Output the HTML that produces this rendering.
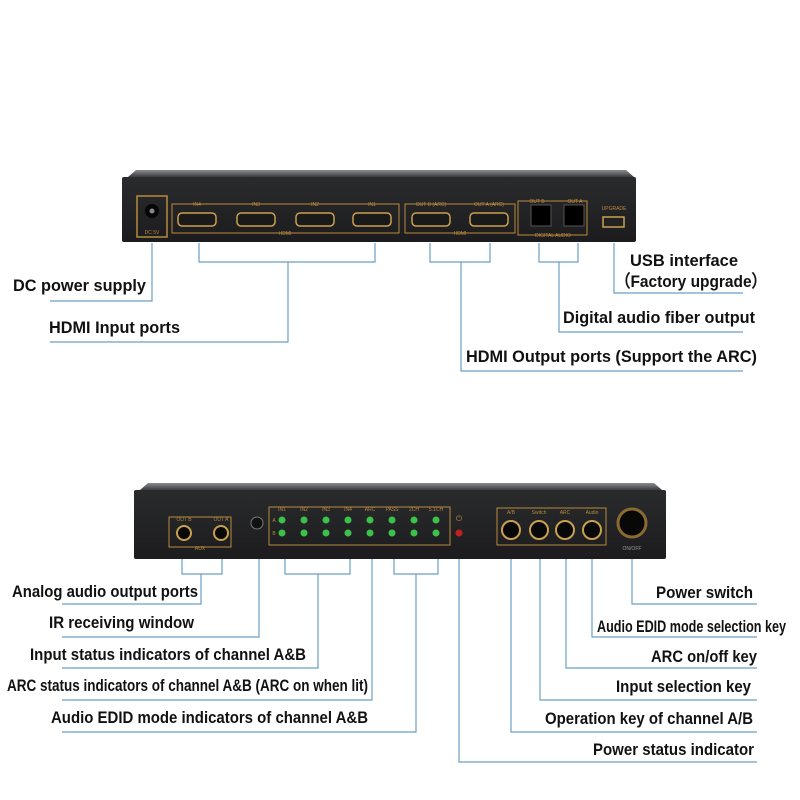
<!DOCTYPE html>
<html><head><meta charset="utf-8"><style>
html,body{margin:0;padding:0;background:#fff;}
svg{display:block}
text{font-family:"Liberation Sans",sans-serif;}
.l{font-weight:bold;font-size:17px;fill:#111;}
.g{font-size:5px;fill:#b8893c;}
</style></head><body>
<svg width="800" height="800" viewBox="0 0 800 800" xmlns="http://www.w3.org/2000/svg">
<defs>
<linearGradient id="tp" x1="0" y1="0" x2="0" y2="1"><stop offset="0" stop-color="#8a8c90"/><stop offset="1" stop-color="#3a3b3e"/></linearGradient>
<linearGradient id="bd" x1="0" y1="0" x2="0" y2="1"><stop offset="0" stop-color="#2a2b2d"/><stop offset="1" stop-color="#1c1c1e"/></linearGradient>
</defs>
<!-- TOP DEVICE -->
<polygon points="128,177 136,170 626,170 634,177" fill="url(#tp)"/>
<rect x="122" y="177" width="514" height="65" rx="2" fill="url(#bd)"/>
<g fill="none" stroke="#b8893c" stroke-width="1">
<rect x="137" y="196" width="30" height="41" stroke-width="1.5"/>
<rect x="172" y="204" width="227" height="29"/>
<rect x="405" y="204" width="110" height="29"/>
<rect x="518" y="201" width="69" height="34"/>
</g>
<circle cx="152" cy="211" r="7" fill="#050505"/><circle cx="152" cy="211" r="2.5" fill="#888"/>
<text x="152" y="234" class="g" text-anchor="middle" font-size="6">DC 5V</text>
<g fill="#1a1a1a" stroke="#c9a050" stroke-width="1.5">
<rect x="178" y="213" width="38" height="13" rx="4"/>
<rect x="237" y="213" width="38" height="13" rx="4"/>
<rect x="296" y="213" width="38" height="13" rx="4"/>
<rect x="353" y="213" width="38" height="13" rx="4"/>
<rect x="412" y="213" width="38" height="13" rx="4"/>
<rect x="470" y="213" width="38" height="13" rx="4"/>
</g>
<g fill="#000" stroke="#555"><rect x="531" y="205" width="20" height="21"/><rect x="564" y="205" width="20" height="21"/></g>
<rect x="603" y="217" width="21" height="10" fill="#222" stroke="#c9a050" stroke-width="1.5"/>
<g class="g" text-anchor="middle">
<text x="197" y="206">IN4</text><text x="256" y="206">IN3</text><text x="315" y="206">IN2</text><text x="372" y="206">IN1</text>
<text x="285" y="235">HDMI</text><text x="431" y="206">OUT B (ARC)</text><text x="489" y="206">OUT A (ARC)</text><text x="460" y="235">HDMI</text>
<text x="537" y="203">OUT B</text><text x="575" y="203">OUT A</text><text x="553" y="237">DIGITAL AUDIO</text><text x="614" y="210">UPGRADE</text>
</g>
<!-- BOTTOM DEVICE -->
<polygon points="140,490 148,483 654,483 662,490" fill="url(#tp)"/>
<rect x="134" y="490" width="532" height="69" rx="2" fill="url(#bd)"/>
<g fill="none" stroke="#b8893c" stroke-width="1">
<rect x="169" y="517" width="62" height="30"/>
<rect x="269" y="507" width="181" height="38"/>
<rect x="497" y="508" width="109" height="37"/>
</g>
<g fill="#080808" stroke="#c9a050" stroke-width="2">
<circle cx="184" cy="533" r="7"/><circle cx="221" cy="533" r="7"/>
<circle cx="511" cy="530" r="9"/><circle cx="539" cy="530" r="9"/><circle cx="565" cy="530" r="9"/><circle cx="592" cy="530" r="9"/>
<circle cx="632" cy="523" r="14" stroke="#8a6a30" stroke-width="3"/>
</g>
<circle cx="257" cy="523" r="6" fill="#111" stroke="#777"/>
<g fill="#3cc24a">
<circle cx="282" cy="520" r="3.5"/><circle cx="304" cy="520" r="3.5"/><circle cx="326" cy="520" r="3.5"/><circle cx="348" cy="520" r="3.5"/><circle cx="370" cy="520" r="3.5"/><circle cx="392" cy="520" r="3.5"/><circle cx="414" cy="520" r="3.5"/><circle cx="436" cy="520" r="3.5"/>
<circle cx="282" cy="533" r="3.5"/><circle cx="304" cy="533" r="3.5"/><circle cx="326" cy="533" r="3.5"/><circle cx="348" cy="533" r="3.5"/><circle cx="370" cy="533" r="3.5"/><circle cx="392" cy="533" r="3.5"/><circle cx="414" cy="533" r="3.5"/><circle cx="436" cy="533" r="3.5"/>
</g>
<circle cx="459" cy="533" r="3.5" fill="#c02020"/>
<g class="g" text-anchor="middle">
<text x="184" y="521">OUT B</text><text x="221" y="521">OUT A</text><text x="200" y="550">AUX</text>
<text x="282" y="511">IN1</text><text x="304" y="511">IN2</text><text x="326" y="511">IN3</text><text x="348" y="511">IN4</text><text x="370" y="511">ARC</text><text x="392" y="511">PASS</text><text x="414" y="511">2CH</text><text x="436" y="511">5.1CH</text>
<text x="274" y="522">A</text><text x="274" y="535">B</text><text x="459" y="521" font-size="8">⏻</text>
<text x="511" y="514">A/B</text><text x="539" y="514">Switch</text><text x="565" y="514">ARC</text><text x="592" y="514">Audio</text>
<text x="632" y="550" fill="#999">ON/OFF</text>
</g>
<!-- CONNECTORS -->
<g fill="none" stroke="#6a9fc6" stroke-width="1.2">
<polyline points="152,243 152,301 50,301"/>
<polyline points="199,243 199,262 375,262 375,243"/><polyline points="288,262 288,342 50,342"/>
<polyline points="430,243 430,262 490,262 490,243"/><polyline points="461,262 461,371 743,371"/>
<polyline points="539,243 539,262 578,262 578,243"/><polyline points="559,262 559,332 743,332"/>
<polyline points="614,243 614,293 743,293"/>
<polyline points="182,559 182,574 222,574 222,559"/><polyline points="201,574 201,604 62,604"/>
<polyline points="259,559 259,637 62,637"/>
<polyline points="285,559 285,574 350,574 350,559"/><polyline points="318,574 318,668 62,668"/>
<polyline points="372,559 372,700 62,700"/>
<polyline points="394,559 394,574 438,574 438,559"/><polyline points="416,574 416,732 62,732"/>
<polyline points="459,559 459,762 757,762"/>
<polyline points="511,559 511,732 757,732"/>
<polyline points="540,559 540,700 757,700"/>
<polyline points="566,559 566,668 757,668"/>
<polyline points="592,559 592,637 757,637"/>
<polyline points="632,559 632,604 757,604"/>
</g>
<!-- LABELS -->
<g class="l" lengthAdjust="spacingAndGlyphs">
<text x="13" y="291" textLength="133" lengthAdjust="spacingAndGlyphs">DC power supply</text>
<text x="49" y="333" textLength="131" lengthAdjust="spacingAndGlyphs">HDMI Input ports</text>
<text x="630" y="266" textLength="108" lengthAdjust="spacingAndGlyphs">USB interface</text>
<text x="615" y="287" textLength="152" lengthAdjust="spacingAndGlyphs">（Factory upgrade）</text>
<text x="563" y="323" textLength="192" lengthAdjust="spacingAndGlyphs">Digital audio fiber output</text>
<text x="466" y="362" textLength="291" lengthAdjust="spacingAndGlyphs">HDMI Output ports (Support the ARC)</text>
<text x="12" y="597" textLength="186" lengthAdjust="spacingAndGlyphs">Analog audio output ports</text>
<text x="49" y="628" textLength="145" lengthAdjust="spacingAndGlyphs">IR receiving window</text>
<text x="30" y="660" textLength="276" lengthAdjust="spacingAndGlyphs">Input status indicators of channel A&amp;B</text>
<text x="7" y="691" textLength="361" lengthAdjust="spacingAndGlyphs">ARC status indicators of channel A&amp;B (ARC on when lit)</text>
<text x="51" y="723" textLength="317" lengthAdjust="spacingAndGlyphs">Audio EDID mode indicators of channel A&amp;B</text>
<text x="656" y="598" textLength="97" lengthAdjust="spacingAndGlyphs">Power switch</text>
<text x="597" y="632" textLength="189" lengthAdjust="spacingAndGlyphs">Audio EDID mode selection key</text>
<text x="651" y="662" textLength="106" lengthAdjust="spacingAndGlyphs">ARC on/off key</text>
<text x="616" y="692" textLength="135" lengthAdjust="spacingAndGlyphs">Input selection key</text>
<text x="545" y="724" textLength="208" lengthAdjust="spacingAndGlyphs">Operation key of channel A/B</text>
<text x="593" y="755" textLength="161" lengthAdjust="spacingAndGlyphs">Power status indicator</text>
</g>
</svg>
</body></html>
